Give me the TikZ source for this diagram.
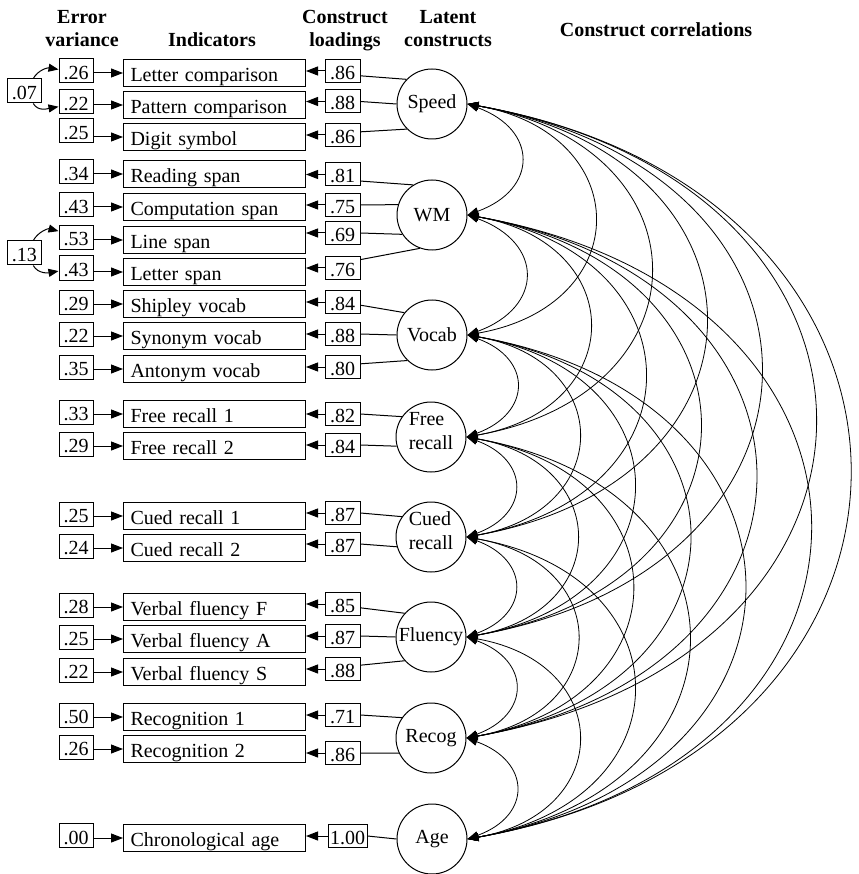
\documentclass[tikz,border=0pt]{standalone}
\usepackage{fontspec}
\setmainfont{Liberation Serif}
\usetikzlibrary{arrows.meta}
\begin{document}
\begin{tikzpicture}[x=1pt,y=1pt,
  every node/.style={font=\fontsize{20}{24}\selectfont},
  head/.style={font=\fontsize{20}{24}\selectfont\bfseries, anchor=base, inner sep=0pt},
  boxed/.style={draw, line width=1pt, text height=17pt, text depth=0pt, inner ysep=0pt},
  evbox/.style={boxed, minimum width=34pt, minimum height=24pt, inner xsep=2pt},
  indbox/.style={boxed, minimum height=27pt, text width=168pt, align=left, inner xsep=7pt, anchor=west},
  ldbox/.style={boxed, minimum width=35pt, minimum height=23pt, inner xsep=2pt},
  latent/.style={draw, circle, line width=1pt, minimum size=70pt, inner sep=0pt, align=left},
  pointer/.style={line width=1pt, -{Triangle[length=12pt,width=9pt]}},
  covpointer/.style={line width=1pt, -{Triangle[length=10pt,width=8pt]}},
  link/.style={line width=1pt},
  corr/.style={line width=0.8pt, {Triangle[length=11pt,width=8pt]}-{Triangle[length=11pt,width=8pt]}}
]
\useasboundingbox (0,0) rectangle (858,-874);

% column headings
\node[head] (hErr1) at (82,-24) {Error};
\node[head] (hErr2) at (82,-47) {variance};
\node[head] (hInd) at (212,-47) {Indicators};
\node[head] (hLd1) at (345,-24) {Construct};
\node[head] (hLd2) at (345,-47) {loadings};
\node[head] (hLat1) at (448,-24) {Latent};
\node[head] (hLat2) at (448,-47) {constructs};
\node[head] (hCor) at (656,-37) {Construct correlations};

% latent constructs
\node[latent] (c1) at (432,-104) {Speed};
\node[latent] (c2) at (432,-215) {WM};
\node[latent] (c3) at (432,-335) {Vocab};
\node[latent] (c4) at (431,-437) {Free\\recall\rule[-13pt]{0pt}{13pt}};
\node[latent] (c5) at (431,-537) {Cued\\recall\rule[-13pt]{0pt}{13pt}};
\node[latent] (c6) at (431,-637) {Fluency};
\node[latent] (c7) at (431,-738) {Recog};
\node[latent] (c8) at (432,-839) {Age};

% indicators: row / y / error y / loading y / loading x / error / name / loading / construct / circle angle / box angle
\foreach \n/\y/\ey/\ly/\lx/\ev/\ind/\ld/\cn/\ca/\ba in {
  1/73/71/71/342.5/.26/Letter comparison/.86/1/136/-15,
  2/105/102/101.5/342.5/.22/Pattern comparison/.88/1/180/0,
  3/137/131/135/342.5/.25/Digit symbol/.86/1/225/10,
  4/174/172/174.5/342.5/.34/Reading span/.81/2/122/-20,
  5/207/205/205/342.5/.43/Computation span/.75/2/163/0,
  6/240/237.5/233/342.5/.53/Line span/.69/2/213/0,
  7/272/268/268/342.5/.43/Letter span/.76/2/250/25,
  8/304/302/302/342.5/.29/Shipley vocab/.84/3/141/-10,
  9/336/334/334/342.5/.22/Synonym vocab/.88/3/180/0,
  10/369/367/367/342.5/.35/Antonym vocab/.80/3/226/10,
  11/414/412/414/342.5/.33/Free recall 1/.82/4/145/0,
  12/446/444/445/342.5/.29/Free recall 2/.84/4/195/0,
  13/516/514/513/342.5/.25/Cued recall 1/.87/5/145/0,
  14/548/546/544/342.5/.24/Cued recall 2/.87/5/196/0,
  15/607/605/604/342.5/.28/Verbal fluency F/.85/6/138/-12,
  16/639/637/636/342.5/.25/Verbal fluency A/.87/6/180/0,
  17/672/670/669/342.5/.22/Verbal fluency S/.88/6/222/12,
  18/717/715/715/342.5/.50/Recognition 1/.71/7/145/0,
  19/749/747/753/342.5/.26/Recognition 2/.86/7/205/0,
  20/838/835.5/836/347.5/.00/Chronological age/1.00/8/180/0}{
  \node[evbox] (e\n) at (76,-\ey) {\ev};
  \node[indbox] (i\n) at (123,-\y) {\ind};
  \node[ldbox] (l\n) at (\lx,-\ly) {\ld};
  \draw[pointer] (e\n.east |- i\n.west) -- (i\n.west);
  \draw[pointer] (l\n.west) -- (l\n.west -| i\n.east);
  \draw[link] (c\cn.\ca) -- (l\n.\ba);
}

% correlated error variances
\node[evbox] (v07) at (24.5,-91) {.07};
\node[evbox] (v13) at (24.5,-253) {.13};
\draw[covpointer] (v07.55) to[out=60,in=170,looseness=1] (e1.175);
\draw[covpointer] (v13.55) to[out=60,in=165,looseness=1] (e6.160);
\draw[covpointer] (v07.-55) to[out=-60,in=190,looseness=1] (e2.195);
\draw[covpointer] (v13.-55) to[out=-60,in=190,looseness=1] (e7.190);

% construct correlations
\foreach \i in {1,...,7}{
  \pgfmathtruncatemacro{\nx}{\i+1}
  \foreach \j in {\nx,...,8}{
    \pgfmathtruncatemacro{\gap}{\j-\i}
    \ifnum\gap=1
      \draw[corr] (c\i.east) to[out=-20,in=20,looseness=1.74] (c\j.east);
    \else\ifnum\gap=7
      \draw[corr] (c\i.east) to[out=-10,in=10,looseness=1.8] (c\j.east);
    \else
      \draw[corr] (c\i.east) to[out=-10,in=10,looseness=1.9] (c\j.east);
    \fi\fi
  }
}
\end{tikzpicture}
\end{document}
